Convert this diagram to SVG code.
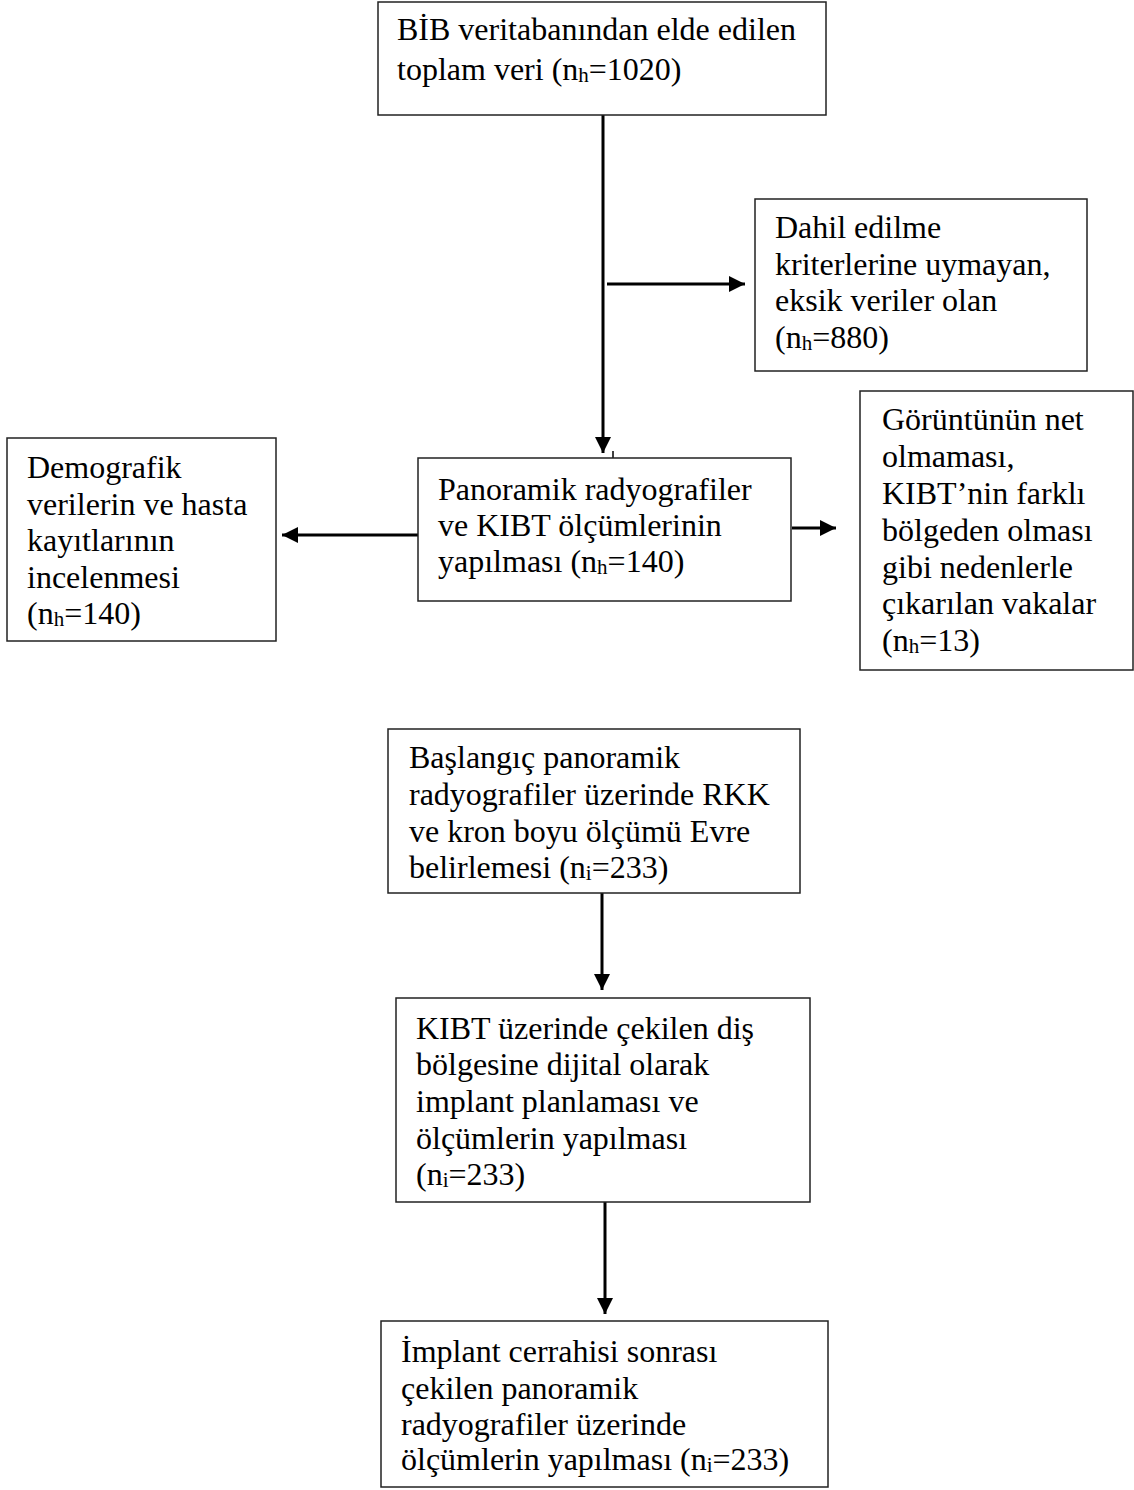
<svg xmlns="http://www.w3.org/2000/svg" width="1134" height="1490" viewBox="0 0 1134 1490">
<style>
.box{fill:#fff;stroke:#222;stroke-width:1.5}
.t{font-family:"Liberation Serif","Times New Roman",serif;font-size:32px;fill:#000}
.s{font-size:21px}
.c{stroke:#000;stroke-width:3;fill:none}
</style>
<defs>
<marker id="ah" viewBox="0 0 16 16" refX="16" refY="8" markerWidth="16" markerHeight="16" orient="auto" markerUnits="userSpaceOnUse">
<path d="M0,0 L16,8 L0,16 z" fill="#000"/>
</marker>
</defs>
<rect width="1134" height="1490" fill="#fff"/>
<g id="connectors">
<line class="c" x1="603" y1="115" x2="603" y2="453" marker-end="url(#ah)"/>
<line class="c" x1="607" y1="284" x2="745" y2="284" marker-end="url(#ah)"/>
<line x1="613" y1="451" x2="613" y2="458" stroke="#000" stroke-width="1.5"/>
<line class="c" x1="418" y1="535" x2="282" y2="535" marker-end="url(#ah)"/>
<line class="c" x1="792" y1="528" x2="836" y2="528" marker-end="url(#ah)"/>
<line class="c" x1="602" y1="893" x2="602" y2="990" marker-end="url(#ah)"/>
<line class="c" x1="605" y1="1202" x2="605" y2="1314" marker-end="url(#ah)"/>
</g>
<g id="n1">
<rect class="box" x="378" y="2" width="448" height="113"/>
<text class="t" x="397" y="40">BİB veritabanından elde edilen</text>
<text class="t" x="397" y="80">toplam veri (n<tspan class="s" dy="2">h</tspan><tspan dy="-2">=1020)</tspan></text>
</g>
<g id="n2">
<rect class="box" x="755" y="199" width="332" height="172"/>
<text class="t" x="775" y="238">Dahil edilme</text>
<text class="t" x="775" y="275">kriterlerine uymayan,</text>
<text class="t" x="775" y="311">eksik veriler olan</text>
<text class="t" x="775" y="348">(n<tspan class="s" dy="2">h</tspan><tspan dy="-2">=880)</tspan></text>
</g>
<g id="n3">
<rect class="box" x="418" y="458" width="373" height="143"/>
<text class="t" x="438" y="500">Panoramik radyografiler</text>
<text class="t" x="438" y="536">ve KIBT ölçümlerinin</text>
<text class="t" x="438" y="572">yapılması (n<tspan class="s" dy="2">h</tspan><tspan dy="-2">=140)</tspan></text>
</g>
<g id="n4">
<rect class="box" x="7" y="438" width="269" height="203"/>
<text class="t" x="27" y="478">Demografik</text>
<text class="t" x="27" y="515">verilerin ve hasta</text>
<text class="t" x="27" y="551">kayıtlarının</text>
<text class="t" x="27" y="588">incelenmesi</text>
<text class="t" x="27" y="624">(n<tspan class="s" dy="2">h</tspan><tspan dy="-2">=140)</tspan></text>
</g>
<g id="n5">
<rect class="box" x="860" y="391" width="273" height="279"/>
<text class="t" x="882" y="430">Görüntünün net</text>
<text class="t" x="882" y="467">olmaması,</text>
<text class="t" x="882" y="504">KIBT’nin farklı</text>
<text class="t" x="882" y="541">bölgeden olması</text>
<text class="t" x="882" y="578">gibi nedenlerle</text>
<text class="t" x="882" y="614">çıkarılan vakalar</text>
<text class="t" x="882" y="651">(n<tspan class="s" dy="2">h</tspan><tspan dy="-2">=13)</tspan></text>
</g>
<g id="n6">
<rect class="box" x="388" y="729" width="412" height="164"/>
<text class="t" x="409" y="768">Başlangıç panoramik</text>
<text class="t" x="409" y="805">radyografiler üzerinde RKK</text>
<text class="t" x="409" y="842">ve kron boyu ölçümü Evre</text>
<text class="t" x="409" y="878">belirlemesi (n<tspan class="s" dy="2">i</tspan><tspan dy="-2">=233)</tspan></text>
</g>
<g id="n7">
<rect class="box" x="396" y="998" width="414" height="204"/>
<text class="t" x="416" y="1039">KIBT üzerinde çekilen diş</text>
<text class="t" x="416" y="1075">bölgesine dijital olarak</text>
<text class="t" x="416" y="1112">implant planlaması ve</text>
<text class="t" x="416" y="1149">ölçümlerin yapılması</text>
<text class="t" x="416" y="1185">(n<tspan class="s" dy="2">i</tspan><tspan dy="-2">=233)</tspan></text>
</g>
<g id="n8">
<rect class="box" x="381" y="1321" width="447" height="166"/>
<text class="t" x="401" y="1362">İmplant cerrahisi sonrası</text>
<text class="t" x="401" y="1399">çekilen panoramik</text>
<text class="t" x="401" y="1435">radyografiler üzerinde</text>
<text class="t" x="401" y="1470">ölçümlerin yapılması (n<tspan class="s" dy="2">i</tspan><tspan dy="-2">=233)</tspan></text>
</g>
</svg>
